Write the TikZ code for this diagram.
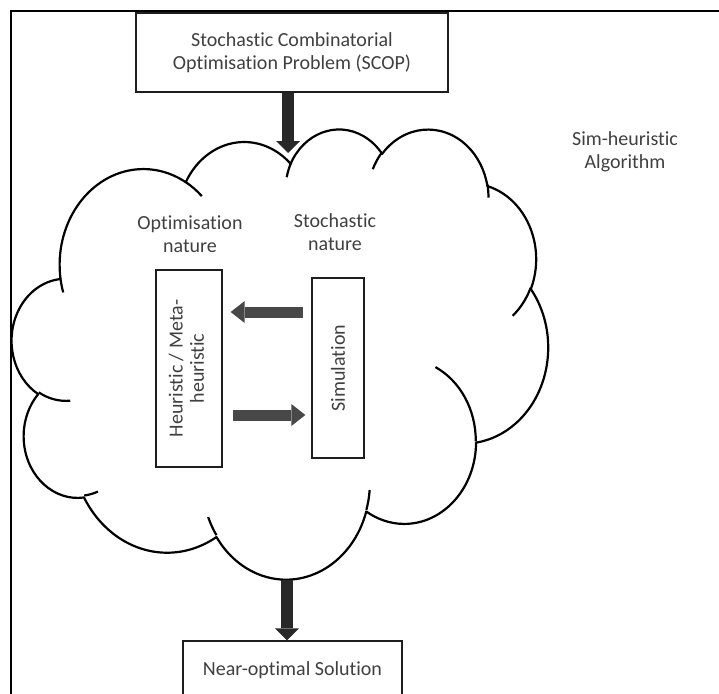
\documentclass[tikz,border=0pt]{standalone}
\usepackage{fontspec}
\setmainfont{Carlito}[Ligatures=NoCommon]
\usepackage{graphicx}
\usetikzlibrary{arrows.meta}

\definecolor{labelgray}{RGB}{64,64,64}
\definecolor{edgegray}{RGB}{30,30,30}
\definecolor{heavyarrow}{RGB}{40,40,40}
\definecolor{sidearrow}{RGB}{72,72,72}

% A DrawingML-style arcTo gives wR, hR and the true angles of its end
% points; TikZ's arc wants parametric angles.  Store the parametric
% start angle and sweep as \clS<tag> and \clD<tag>.
\newcommand\cloudarcprep[5]{%
  \pgfmathsetmacro\cpStart{atan2((#2)*sin(#4),(#3)*cos(#4))}%
  \pgfmathsetmacro\cpEnd{atan2((#2)*sin((#4)+(#5)),(#3)*cos((#4)+(#5)))}%
  \pgfmathsetmacro\cpSweep{mod(\cpEnd-(\cpStart)+540,360)-180}%
  \expandafter\xdef\csname clS#1\endcsname{\cpStart}%
  \expandafter\xdef\csname clD#1\endcsname{\cpSweep}%
}

\tikzset{
  every node/.style={font=\fontsize{20}{23}\selectfont, text=labelgray},
  framebox/.style={draw=edgegray, line width=1.3pt, fill=white, inner sep=0pt, align=center},
  cloudline/.style={draw=black, line width=2.2pt, line join=round},
  heavy/.style={draw=heavyarrow, line width=12pt,
    -{Triangle[width=24pt, length=12pt, line width=0pt]}},
  side/.style={draw=sidearrow, line width=11pt,
    -{Triangle[width=22pt, length=14pt, line width=0pt]}},
}

\begin{document}
\begin{tikzpicture}[x=1pt, y=-1pt]
  \useasboundingbox (0,0) rectangle (719,693);
  \clip (0,0) rectangle (719,693);

  % outer frame (only its top and left sides are in view)
  \draw[line width=2pt, black] (11,700) -- (11,11) -- (725,11);

  % cloud outline: eleven arcs (path units / 10)
  \cloudarcprep{a}{675.3}{919.0}{-190.48748}{123.78053}
  \cloudarcprep{b}{533.3}{726.7}{-144.10238}{89.94523}
  \cloudarcprep{c}{436.5}{594.5}{-145.80792}{99.72302}
  \cloudarcprep{d}{485.7}{659.5}{-130.98607}{117.24173}
  \cloudarcprep{e}{533.3}{727.3}{-78.70888}{109.02692}
  \cloudarcprep{f}{677.5}{922.0}{-46.26725}{130.269}
  \cloudarcprep{g}{578.5}{786.7}{0.62502}{114.03333}
  \cloudarcprep{h}{675.2}{921.5}{22.4516}{115.17255}
  \cloudarcprep{i}{772.0}{1054.3}{66.24263}{75.71102}
  \cloudarcprep{j}{436.0}{591.8}{-274.94208}{146.73557}
  \cloudarcprep{k}{434.5}{594.5}{-246.8285}{152.51885}
  % short inner strokes where the bumps meet
  \cloudarcprep{ta}{434.5}{594.5}{86.742}{26.4295}
  \cloudarcprep{tb}{436.0}{591.8}{73.61047}{11.44747}
  \cloudarcprep{tc}{675.2}{921.5}{137.62415}{14.0811}
  \cloudarcprep{td}{675.2}{921.5}{6.45327}{15.99835}
  \cloudarcprep{te}{578.5}{786.7}{-70.29235}{70.91737}
  \cloudarcprep{tf}{533.3}{727.3}{30.31803}{27.7515}
  \cloudarcprep{tg}{485.7}{659.5}{-13.74433}{14.8589}
  \cloudarcprep{th}{485.7}{659.5}{-149.18145}{18.19537}
  \cloudarcprep{ti}{436.5}{594.5}{-163.49427}{17.68635}
  \cloudarcprep{tj}{675.3}{919.0}{-66.70695}{12.31935}
  \cloudarcprep{tk}{675.3}{919.0}{157.65435}{11.85817}

  \begin{scope}[shift={(12,128)}, x=0.124074pt, y=-0.104167pt]
    \draw[cloudline, fill=white] (390.0,1437.0)
      arc[x radius=675.3, y radius=919.0,  start angle=\clSa, delta angle=\clDa]
      arc[x radius=533.3, y radius=726.7,  start angle=\clSb, delta angle=\clDb]
      arc[x radius=436.5, y radius=594.5,  start angle=\clSc, delta angle=\clDc]
      arc[x radius=485.7, y radius=659.5,  start angle=\clSd, delta angle=\clDd]
      arc[x radius=533.3, y radius=727.3,  start angle=\clSe, delta angle=\clDe]
      arc[x radius=677.5, y radius=922.0,  start angle=\clSf, delta angle=\clDf]
      arc[x radius=578.5, y radius=786.7,  start angle=\clSg, delta angle=\clDg]
      arc[x radius=675.2, y radius=921.5,  start angle=\clSh, delta angle=\clDh]
      arc[x radius=772.0, y radius=1054.3, start angle=\clSi, delta angle=\clDi]
      arc[x radius=436.0, y radius=591.8,  start angle=\clSj, delta angle=\clDj]
      arc[x radius=434.5, y radius=594.5,  start angle=\clSk, delta angle=\clDk]
      -- cycle;
    \draw[cloudline]
      (469.3,2617.7)  arc[x radius=434.5, y radius=594.5, start angle=\clSta, delta angle=\clDta]
      (692.8,3489.9)  arc[x radius=436.0, y radius=591.8, start angle=\clStb, delta angle=\clDtb]
      (1647.8,3909.0) arc[x radius=675.2, y radius=921.5, start angle=\clStc, delta angle=\clDtc]
      (2882.7,3475.1) arc[x radius=675.2, y radius=921.5, start angle=\clStd, delta angle=\clDtd]
      (3412.9,2295.4) arc[x radius=578.5, y radius=786.7, start angle=\clSte, delta angle=\clDte]
      (4179.8,1535.4) arc[x radius=533.3, y radius=727.3, start angle=\clStf, delta angle=\clDtf]
      (3832.4,542.6)  arc[x radius=485.7, y radius=659.5, start angle=\clStg, delta angle=\clDtg]
      (2907.8,395.2)  arc[x radius=485.7, y radius=659.5, start angle=\clSth, delta angle=\clDth]
      (2214.1,472.0)  arc[x radius=436.5, y radius=594.5, start angle=\clSti, delta angle=\clDti]
      (1400.0,519.2)  arc[x radius=675.3, y radius=919.0, start angle=\clStj, delta angle=\clDtj]
      (412.7,1578.9)  arc[x radius=675.3, y radius=919.0, start angle=\clStk, delta angle=\clDtk];
  \end{scope}

  % boxes and labels
  \node[framebox, minimum width=312pt, minimum height=79pt] (scop) at (292,52.5)
    {Stochastic Combinatorial\\Optimisation Problem (SCOP)};
  \node[align=center] (simlabel) at (625,152) {Sim-heuristic\\Algorithm};
  \node[align=center] (optlabel) at (190,234) {Optimisation\\nature};
  \node[align=center] (stolabel) at (335,232) {Stochastic\\nature};
  \node[framebox, minimum width=66pt, minimum height=197pt] (heur) at (189,368.5)
    {\rotatebox{90}{\renewcommand\arraystretch{0.92}\begin{tabular}{@{}c@{}}Heuristic / Meta-\\heuristic\end{tabular}}};
  \node[framebox, minimum width=52pt, minimum height=180pt] (sim) at (338,368)
    {\rotatebox{90}{Simulation}};
  \node[framebox, minimum width=219pt, minimum height=58pt] (near) at (292.5,670)
    {Near-optimal Solution};

  % connectors
  \coordinate (cin) at (288,153);
  \coordinate (cout) at (287,580);
  \coordinate (upperrow) at (0,312);
  \coordinate (lowerrow) at (0,415);
  \draw[heavy] (scop.south -| cin) -- (cin);
  \draw[heavy] (cout) -- (cout |- near.north);
  \draw[side, shorten <=8pt, shorten >=8pt] (sim.west |- upperrow) -- (heur.east |- upperrow);
  \draw[side, shorten <=10pt, shorten >=6pt] (heur.east |- lowerrow) -- (sim.west |- lowerrow);
\end{tikzpicture}
\end{document}
